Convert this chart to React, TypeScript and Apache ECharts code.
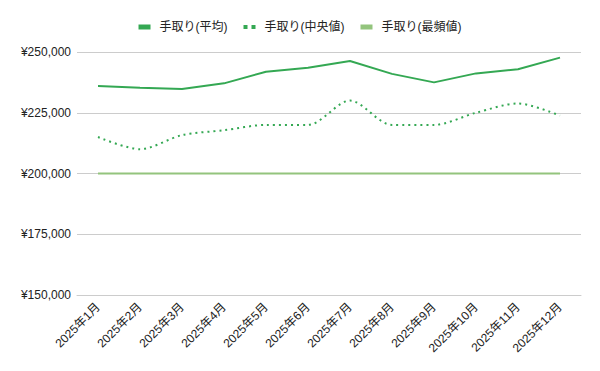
import React, { useEffect, useRef } from "react";
import * as echarts from "echarts";

const categories = ["2025年1月","2025年2月","2025年3月","2025年4月","2025年5月","2025年6月","2025年7月","2025年8月","2025年9月","2025年10月","2025年11月","2025年12月"];
const avgValues = [236000, 235300, 234800, 237100, 241900, 243500, 246300, 241000, 237500, 241200, 242900, 247700];
const medianValues = [215000, 210000, 215800, 217800, 220000, 220000, 230000, 220000, 220000, 225000, 228800, 223800];
const modeValues = [200000, 200000, 200000, 200000, 200000, 200000, 200000, 200000, 200000, 200000, 200000, 200000];
const seriesNames = ["手取り(平均)", "手取り(中央値)", "手取り(最頻値)"];

const FONT = "'Liberation Sans', Arial, 'Noto Sans CJK JP', sans-serif";

export default function App() {
  const ref = useRef<HTMLDivElement>(null);
  useEffect(() => {
    if (!ref.current) return;
    const chart = echarts.init(ref.current, undefined, { renderer: "svg" });
    chart.setOption({
      animation: false,
      textStyle: { fontFamily: FONT },
      legend: {
        top: 16,
        left: "center",
        itemGap: 16,
        itemWidth: 12,
        itemHeight: 5,
        textStyle: { fontSize: 12, color: "#222", fontFamily: FONT, padding: [0, 0, 0, 4] },
        data: [
          { name: seriesNames[0], icon: "rect" },
          { name: seriesNames[1], icon: "path://M0,0h4v4h-4z M8,0h4v4h-4z" },
          { name: seriesNames[2], icon: "rect" },
        ],
      },
      grid: { left: 77, right: 19, top: 52, bottom: 76, containLabel: false },
      xAxis: {
        type: "category",
        data: categories,
        boundaryGap: true,
        axisLine: { show: true, lineStyle: { color: "#cccccc" } },
        axisTick: { show: false },
        axisLabel: { rotate: 45, fontSize: 12, color: "#222", margin: 10, interval: 0, fontFamily: FONT },
      },
      yAxis: {
        type: "value",
        min: 150000,
        max: 250000,
        interval: 25000,
        axisLine: { show: false },
        axisTick: { show: false },
        splitLine: { lineStyle: { color: "#cccccc" } },
        axisLabel: {
          fontSize: 12,
          color: "#222",
          margin: 6,
          fontFamily: FONT,
          formatter: (v: number) => "¥" + v.toLocaleString("en-US"),
        },
      },
      series: [
        {
          name: seriesNames[0],
          type: "line",
          data: avgValues,
          symbol: "none",
          lineStyle: { color: "#34a853", width: 2 },
          itemStyle: { color: "#34a853" },
        },
        {
          name: seriesNames[1],
          type: "line",
          data: medianValues,
          symbol: "none",
          smooth: 0.3,
          lineStyle: { color: "#34a853", width: 2, type: [2, 4] },
          itemStyle: { color: "#34a853" },
        },
        {
          name: seriesNames[2],
          type: "line",
          data: modeValues,
          symbol: "none",
          lineStyle: { color: "#93c47d", width: 2 },
          itemStyle: { color: "#93c47d" },
        },
      ],
    });
    return () => chart.dispose();
  }, []);
  return <div ref={ref} style={{ width: 600, height: 371, position: "absolute", left: 0, top: 0 }} />;
}
